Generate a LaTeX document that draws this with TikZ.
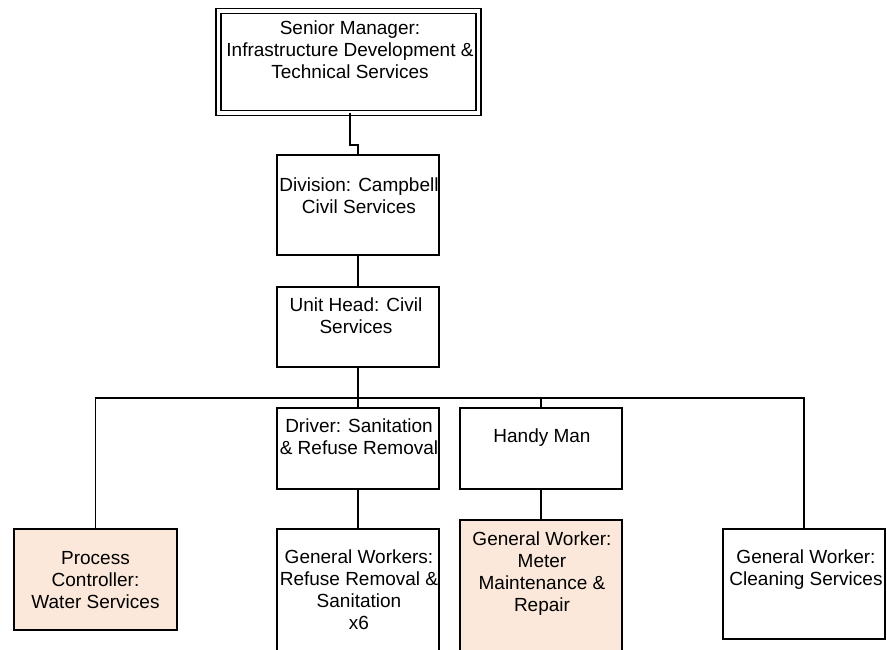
\documentclass[tikz,border=0pt]{standalone}
\usepackage{fontspec}
\setmainfont{Liberation Sans}
\definecolor{peach}{HTML}{FBE8DA}
\begin{document}
\begin{tikzpicture}[x=1pt,y=-1pt,
  box/.style={draw=black, line width=1.6pt, rectangle, inner sep=0pt, outer sep=0pt, fill=white},
  hilite/.style={box, fill=peach},
  txt/.style={align=center, inner sep=0pt, font=\fontsize{19}{22}\selectfont},
  link/.style={line width=1.6pt}]
\useasboundingbox (0,0) rectangle (887,649);
\clip (0,0) rectangle (887,649);

% boxes
\node[box, double, line width=1.4pt, double distance=3.6pt, minimum width=260pt, minimum height=102.5pt] (top) at (348.5,62) {};
\node[box, minimum width=162pt, minimum height=100pt] (div) at (358,205) {};
\node[box, minimum width=162pt, minimum height=80pt] (unit) at (358,327) {};
\node[box, minimum width=162pt, minimum height=81pt] (driver) at (358,448.5) {};
\node[box, minimum width=162pt, minimum height=81pt] (handy) at (541,448.5) {};
\node[hilite, minimum width=163pt, minimum height=101pt] (proc) at (95.5,579.5) {};
\node[box, minimum width=162pt, minimum height=171pt] (gw) at (358,614.5) {};
\node[hilite, minimum width=162pt, minimum height=180pt] (meter) at (541,610) {};
\node[box, minimum width=162pt, minimum height=110pt] (clean) at (804,584) {};

% connectors
\coordinate (bus) at (358,398);
\draw[link] ([xshift=1.5pt]top.south) -- ++(0,32) -| (div.north);
\draw[link] (div.south) -- (unit.north);
\draw[link] (unit.south) -- (bus) -- (driver.north);
\draw[link] (proc.north) |- (bus) -| (clean.north);
\draw[link] (bus -| handy.north) -- (handy.north);
\draw[link] (driver.south) -- (gw.north);
\draw[link] (handy.south) -- (meter.north);

% labels
\node[txt] (topT) at (350,50) {Senior Manager:\\Infrastructure Development \&\\Technical Services};
\node[txt] (divT) at (359,195.5) {Division: Campbell\\Civil Services};
\node[txt] (unitT) at (356,316) {Unit Head: Civil\\Services};
\node[txt] (driverT) at (359,437) {Driver: Sanitation\\\& Refuse Removal};
\node[txt] (handyT) at (542,438) {Handy Man};
\node[txt] (procT) at (95.5,580) {Process\\Controller:\\Water Services};
\node[txt] (gwT) at (359,590) {General Workers:\\Refuse Removal \&\\Sanitation\\x6};
\node[txt] (meterT) at (542,574) {General Worker:\\Meter\\Maintenance \&\\Repair};
\node[txt] (cleanT) at (806,570) {General Worker:\\Cleaning Services};
\end{tikzpicture}
\end{document}
